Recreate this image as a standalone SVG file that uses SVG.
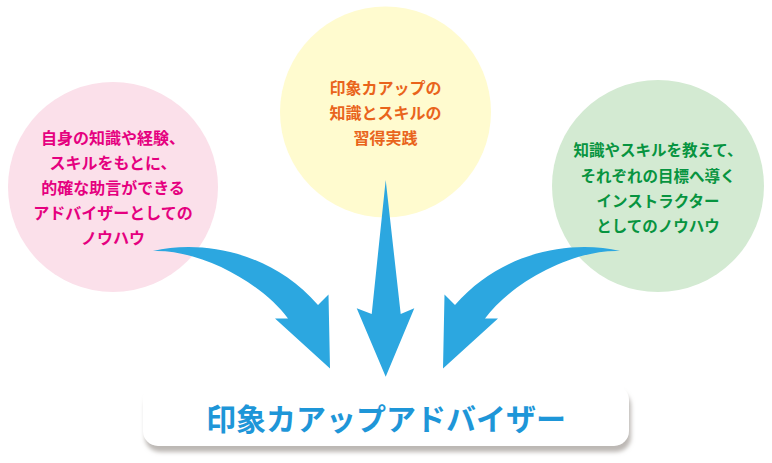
<svg xmlns="http://www.w3.org/2000/svg" width="772" height="463" viewBox="0 0 772 463">
<defs>
<style>
.t{font-family:"Noto Sans CJK JP","Noto Sans",sans-serif;font-weight:bold;text-anchor:middle}
.s{font-size:16px}
.arrow{fill:#2ca7e0}
</style>
<filter id="sh" x="-10%" y="-30%" width="120%" height="160%">
<feDropShadow dx="2" dy="6" stdDeviation="2" flood-color="#b5b0ac" flood-opacity="0.9"/>
</filter>
<path id="curved" d="M153,251 C200,240 270,250 318,305 L328.5,294.5 L330,368.5 L275,318.5 L288,318.5 C262,283 200,249 153,251 Z"/>
</defs>
<rect width="772" height="463" fill="#ffffff"/>
<g id="node-left">
<circle cx="113" cy="187" r="105" fill="#fbe0ea"/>
<text class="t s" fill="#e5007f" x="113" y="144">自身の知識や経験、</text>
<text class="t s" fill="#e5007f" x="113" y="169">スキルをもとに、</text>
<text class="t s" fill="#e5007f" x="113" y="194">的確な助言ができる</text>
<text class="t s" fill="#e5007f" x="113" y="219">アドバイザーとしての</text>
<text class="t s" fill="#e5007f" x="113" y="244">ノウハウ</text>
</g>
<g id="node-top">
<circle cx="385.5" cy="112" r="105.5" fill="#fffbcf"/>
<text class="t s" fill="#e9641c" x="385.5" y="94">印象カアップの</text>
<text class="t s" fill="#e9641c" x="385.5" y="119">知識とスキルの</text>
<text class="t s" fill="#e9641c" x="385.5" y="144">習得実践</text>
</g>
<g id="node-right">
<circle cx="658" cy="186" r="106" fill="#d3ead2"/>
<text class="t" font-size="15.5" fill="#079440" x="658" y="156">知識やスキルを教えて、</text>
<text class="t" font-size="15.5" fill="#079440" x="658" y="181.5">それぞれの目標へ導く</text>
<text class="t" font-size="15.5" fill="#079440" x="658" y="207">インストラクター</text>
<text class="t" font-size="15.5" fill="#079440" x="658" y="232">としてのノウハウ</text>
</g>
<g id="node-bottom">
<rect x="143" y="385" width="486" height="61" rx="15" fill="#ffffff" filter="url(#sh)"/>
<text class="t" font-size="30" fill="#1e96d8" x="386" y="430">印象カアップアドバイザー</text>
</g>
<g id="connectors" class="arrow">
<use href="#curved"/>
<path d="M385.7,180 L400.7,314 L414.3,308.3 L385.7,376.7 L356.7,308.3 L371.7,314 Z"/>
<use href="#curved" transform="translate(773,0) scale(-1,1)"/>
</g>
</svg>
